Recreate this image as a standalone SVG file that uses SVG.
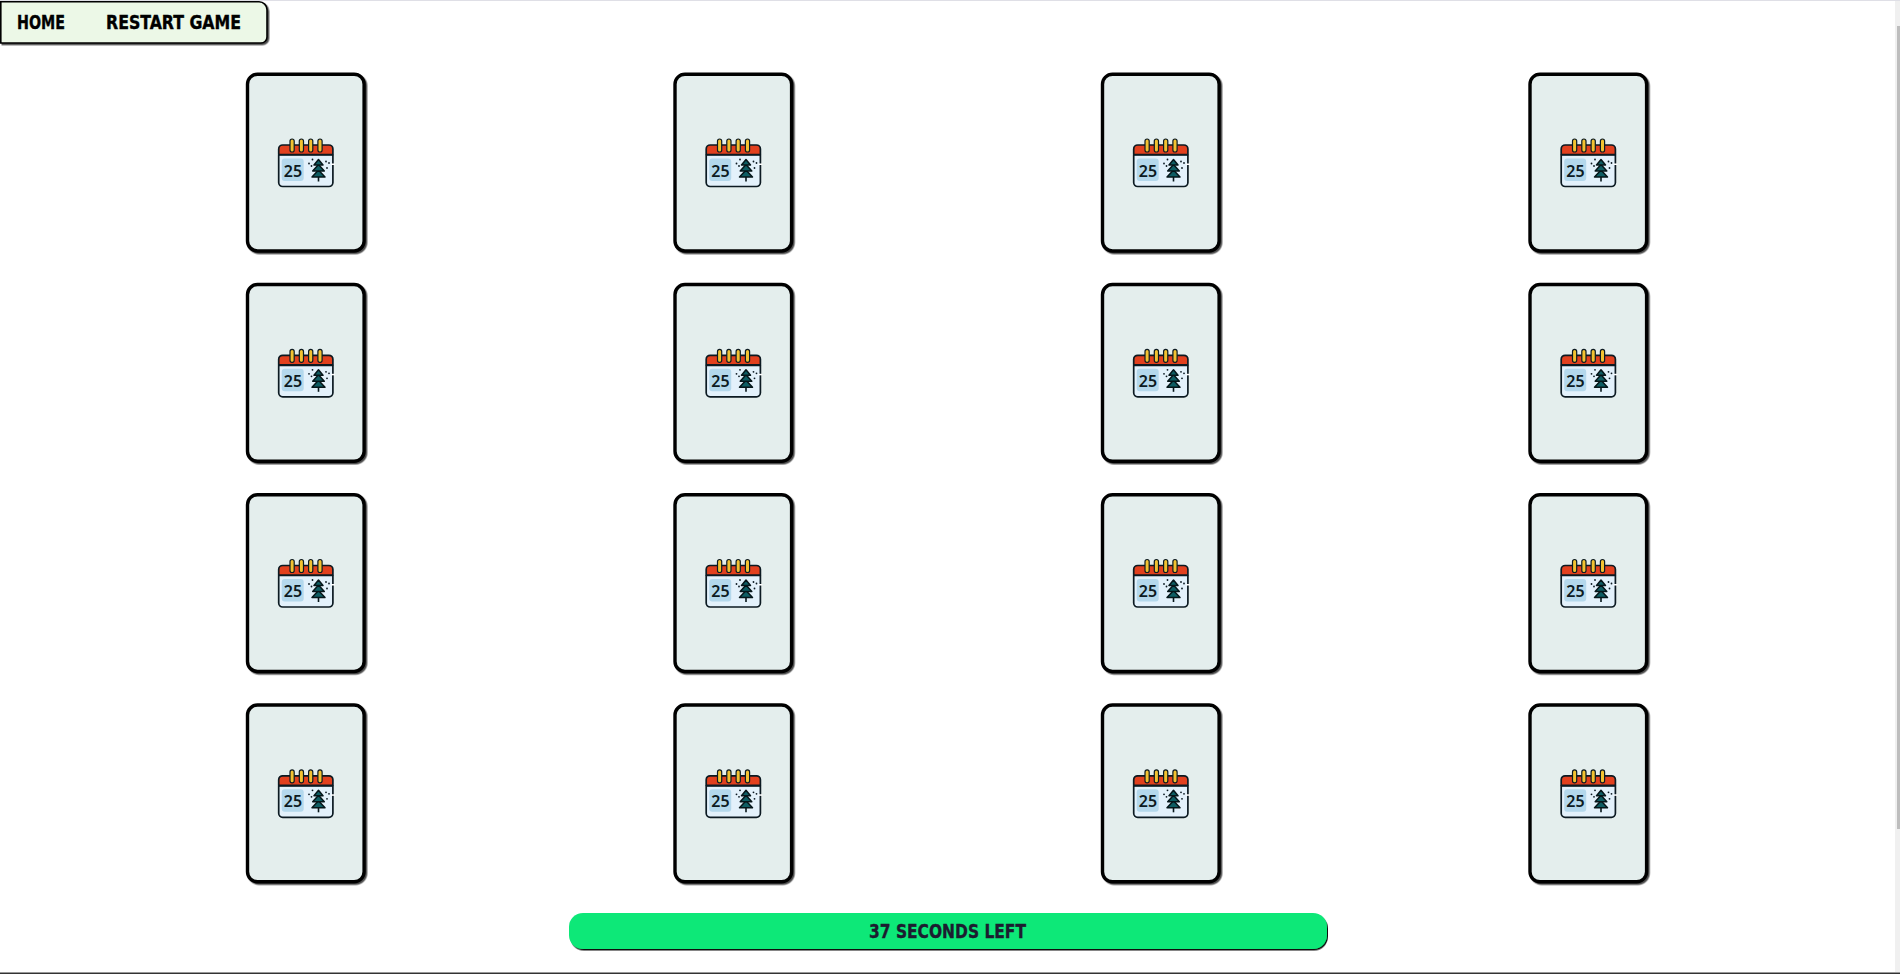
<svg xmlns="http://www.w3.org/2000/svg" width="1900" height="974" viewBox="0 0 1900 974">
<style>
.lbl{font-family:"DejaVu Sans Condensed","Liberation Sans",sans-serif;font-weight:700;font-size:19px;fill:#000;stroke:#000;stroke-width:.35}
.card{fill:#e4eeed;stroke:#000;stroke-width:3.4}
.ol{stroke:#0c1a22;stroke-width:1.7;stroke-linejoin:round}
.ring{fill:#f2c230;stroke:#0c1a22;stroke-width:1.2}
.tree{fill:#0e5d63;stroke:#06161a;stroke-width:1.5;stroke-linejoin:round}
.dot{fill:#0c1a22}
.n{font-family:"Noto Sans","DejaVu Sans",sans-serif;font-weight:600;font-size:16px;fill:#0c1a22}
</style>
<defs>
<filter id="sh" x="-5%" y="-5%" width="110%" height="115%"><feDropShadow dx="1.500" dy="1.500" stdDeviation="0.700" flood-color="#000" flood-opacity="0.700"/></filter>
<filter id="sh2" x="-2%" y="-10%" width="104%" height="130%"><feDropShadow dx="1" dy="1.500" stdDeviation="0.500" flood-color="#000" flood-opacity="0.950"/></filter>
<g id="cardface">
<rect class="card" x="1" y="1.200" width="116.600" height="176.800" rx="10" filter="url(#sh)"/>
<g transform="translate(-246.500,-73)">
<path class="ol" fill="#e3f1fb" d="M278.700 155h54.200v27.500a4 4 0 0 1-4 4h-46.200a4 4 0 0 1-4-4z"/>
<path class="ol" fill="#e2401e" d="M278.700 154.500v-5.500a4 4 0 0 1 4-4h46.200a4 4 0 0 1 4 4v5.500z"/>
<rect x="281.700" y="158.500" width="22" height="22.500" rx="3" fill="#b4d8ec"/>
<rect class="ring" x="290" y="139" width="4.200" height="13" rx="2.100"/>
<rect class="ring" x="299.300" y="139" width="4.200" height="13" rx="2.100"/>
<rect class="ring" x="308.600" y="139" width="4.200" height="13" rx="2.100"/>
<rect class="ring" x="317.900" y="139" width="4.200" height="13" rx="2.100"/>
<text class="n" x="293" y="176.700" text-anchor="middle">25</text>
<path d="M318.500 176v5.500" stroke="#06161a" stroke-width="1.600"/>
<path class="tree" d="M318.500 170l6.500 7h-13z"/>
<path class="tree" d="M318.500 164.500l5.800 6.500h-11.600z"/>
<path class="tree" d="M318.500 159.500l4.500 5.500h-9z"/>
<circle class="dot" cx="312.500" cy="159.500" r=".9"/><circle class="dot" cx="309" cy="163.500" r=".9"/><circle class="dot" cx="311.500" cy="166" r=".9"/><circle class="dot" cx="326" cy="161.500" r=".9"/><circle class="dot" cx="329" cy="163" r=".9"/><circle class="dot" cx="327" cy="168" r=".9"/>
<rect x="331" y="163.500" width="3.800" height="1.500" fill="#fff"/>
</g>
</g>
</defs>
<rect width="1900" height="974" fill="#fff"/>
<rect width="1900" height="1" fill="#dfdfe6"/>
<rect x="1895" y="1" width="5" height="971" fill="#f0f0f0"/>
<rect x="1897" y="26" width="3" height="803" fill="#bdbdbd"/>
<rect y="972.500" width="1900" height="1.500" fill="#333"/>
<g id="nav">
<path d="M.8 1.800H259a8 8 0 0 1 8 8V37a6 6 0 0 1-6 6H.8z" fill="#ecf8e7" stroke="#000" stroke-width="1.600" filter="url(#sh)"/>
<text class="lbl" x="17" y="29" textLength="48" lengthAdjust="spacingAndGlyphs">HOME</text>
<text class="lbl" x="106" y="29" textLength="135" lengthAdjust="spacingAndGlyphs">RESTART GAME</text>
</g>
<g id="cards">
<use id="card-1-1" href="#cardface" x="246.500" y="73"/>
<use id="card-1-2" href="#cardface" x="674" y="73"/>
<use id="card-1-3" href="#cardface" x="1101.500" y="73"/>
<use id="card-1-4" href="#cardface" x="1529" y="73"/>
<use id="card-2-1" href="#cardface" x="246.500" y="283.300"/>
<use id="card-2-2" href="#cardface" x="674" y="283.300"/>
<use id="card-2-3" href="#cardface" x="1101.500" y="283.300"/>
<use id="card-2-4" href="#cardface" x="1529" y="283.300"/>
<use id="card-3-1" href="#cardface" x="246.500" y="493.500"/>
<use id="card-3-2" href="#cardface" x="674" y="493.500"/>
<use id="card-3-3" href="#cardface" x="1101.500" y="493.500"/>
<use id="card-3-4" href="#cardface" x="1529" y="493.500"/>
<use id="card-4-1" href="#cardface" x="246.500" y="703.800"/>
<use id="card-4-2" href="#cardface" x="674" y="703.800"/>
<use id="card-4-3" href="#cardface" x="1101.500" y="703.800"/>
<use id="card-4-4" href="#cardface" x="1529" y="703.800"/>
</g>
<g id="timer">
<rect x="569" y="913" width="758" height="36" rx="14" fill="#0ee878" filter="url(#sh2)"/>
<text class="lbl" x="869" y="938" textLength="157" lengthAdjust="spacingAndGlyphs" style="fill:#1c1c30;stroke:#1c1c30;font-size:20px">37 SECONDS LEFT</text>
</g>
<g id="connectors"/>
</svg>
